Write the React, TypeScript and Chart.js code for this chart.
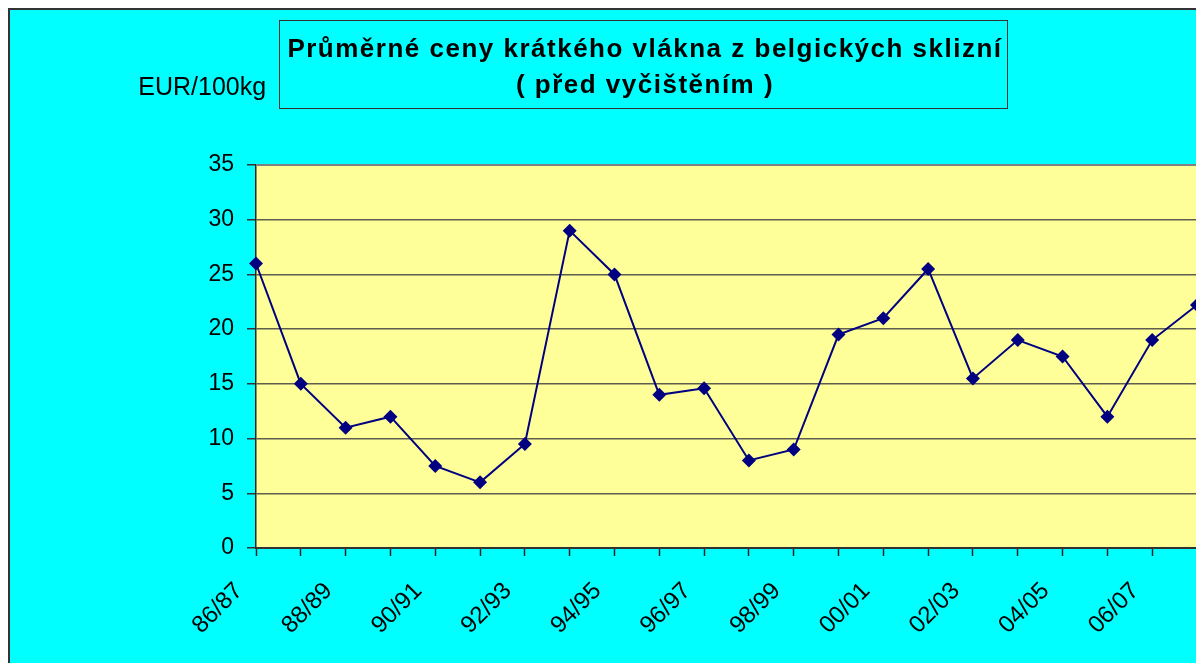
import React, { useEffect, useRef } from "react";
import { Chart, registerables } from "chart.js";

Chart.register(...registerables);

const categories = [
  "86/87", "87/88", "88/89", "89/90", "90/91", "91/92", "92/93", "93/94",
  "94/95", "95/96", "96/97", "97/98", "98/99", "99/00", "00/01", "01/02",
  "02/03", "03/04", "04/05", "05/06", "06/07", "07/08",
];
const prices = [
  26, 15, 11, 12, 7.5, 6, 9.5, 29, 25, 14, 14.6, 8, 9, 19.5, 21, 25.5,
  15.5, 19, 17.5, 12, 19, 22.2,
];
const titleLines = ["Průměrné ceny krátkého vlákna z belgických sklizní", "( před vyčištěním )"];
const unitLabel = "EUR/100kg";
const yMin = 0;
const yMax = 35;
const yStep = 5;

const FONT = "'Liberation Sans', Arial, sans-serif";

const decorPlugin = {
  id: "decor",
  beforeDraw(chart: any) {
    const { ctx, chartArea } = chart;
    ctx.save();
    ctx.fillStyle = "#FFFF99";
    ctx.fillRect(chartArea.left, chartArea.top, chartArea.right - chartArea.left, chartArea.bottom - chartArea.top);
    ctx.restore();
  },
  afterDraw(chart: any) {
    const { ctx, chartArea } = chart;
    ctx.save();
    // plot border (top & right)
    ctx.strokeStyle = "#808080";
    ctx.lineWidth = 2;
    ctx.beginPath();
    ctx.moveTo(chartArea.left, chartArea.top);
    ctx.lineTo(chartArea.right + 1, chartArea.top);
    ctx.lineTo(chartArea.right + 1, chartArea.bottom);
    ctx.stroke();

    // title box
    const bx = 269.5, by = 10.5, bw = 728, bh = 88;
    ctx.strokeStyle = "#333";
    ctx.lineWidth = 1;
    ctx.strokeRect(bx, by, bw, bh);
    ctx.fillStyle = "#000";
    ctx.font = `bold 26px ${FONT}`;
    (ctx as any).letterSpacing = "1.5px";
    ctx.textAlign = "center";
    ctx.textBaseline = "alphabetic";
    ctx.fillText(titleLines[0], bx + bw / 2 + 1.5, 46.5);
    ctx.fillText(titleLines[1], bx + bw / 2 + 1.5, 82.5);
    (ctx as any).letterSpacing = "0px";

    // unit label
    ctx.font = `25px ${FONT}`;
    ctx.textAlign = "left";
    ctx.fillText(unitLabel, 128.3, 85);
    ctx.restore();
  },
};

export default function App() {
  const ref = useRef<HTMLCanvasElement>(null);
  useEffect(() => {
    if (!ref.current) return;
    const chart = new Chart(ref.current, {
      type: "line",
      data: {
        labels: categories,
        datasets: [
          {
            data: prices,
            borderColor: "#000080",
            backgroundColor: "#000080",
            borderWidth: 2,
            pointStyle: "rectRot",
            pointRadius: 7,
            pointBackgroundColor: "#000080",
            pointBorderColor: "#000080",
            pointBorderWidth: 0,
            tension: 0,
            clip: false as any,
          },
        ],
      },
      options: {
        animation: false,
        responsive: false,
        maintainAspectRatio: false,
        layout: { padding: { top: 155, right: 6, left: 0, bottom: 0 } },
        plugins: {
          legend: { display: false },
          title: { display: false },
          tooltip: { enabled: false },
        },
        scales: {
          x: {
            offset: false,
            afterFit: (s: any) => {
              s.height = 115;
              s.paddingLeft = 0;
              s.paddingRight = 0;
            },
            grid: {
              drawOnChartArea: false,
              drawTicks: true,
              tickLength: 8,
              tickColor: "#222",
              tickWidth: 1.5,
            },
            border: { color: "#333", width: 2 },
            ticks: {
              autoSkip: false,
              minRotation: 45,
              maxRotation: 45,
              labelOffset: -17,
              padding: 21,
              color: "#000",
              font: { family: FONT, size: 24 },
              callback: (_v: any, i: number) => (i % 2 === 0 ? categories[i] : ""),
            },
          },
          y: {
            min: yMin,
            max: yMax,
            afterFit: (s: any) => {
              s.width = 246;
            },
            grid: {
              color: "#5e5e50",
              lineWidth: 1.5,
              drawTicks: true,
              tickLength: 9,
              tickColor: "#333",
              tickWidth: 1.5,
            },
            border: { color: "#222", width: 1.5 },
            ticks: {
              stepSize: yStep,
              padding: 13,
              color: "#000",
              font: { family: FONT, size: 23 },
            },
          },
        },
      },
      plugins: [decorPlugin],
    });
    return () => chart.destroy();
  }, []);
  return (
    <div
      style={{
        width: 1194,
        height: 653,
        background: "#00FFFF",
        borderTop: "2px solid #333",
        borderLeft: "2px solid #333",
        overflow: "hidden",
      }}
    >
      <canvas ref={ref} width={1194} height={653} style={{ display: "block", width: 1194, height: 653 }} />
    </div>
  );
}
